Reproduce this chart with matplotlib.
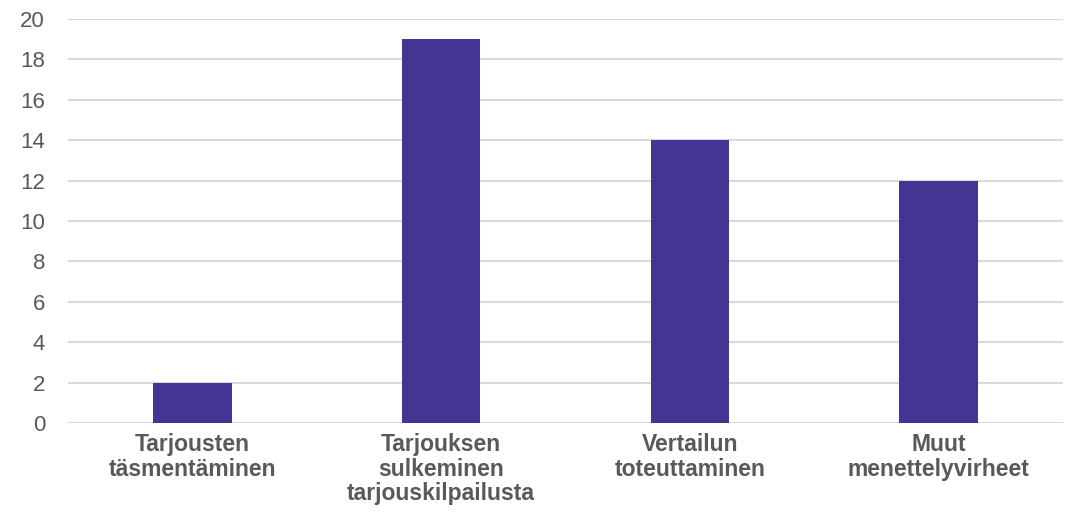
import matplotlib
matplotlib.use("Agg")
import matplotlib.pyplot as plt
import numpy as np

plt.rcParams["font.family"] = ["Liberation Sans", "DejaVu Sans"]

categories = [
    "Tarjousten\ntäsmentäminen",
    "Tarjouksen\nsulkeminen\ntarjouskilpailusta",
    "Vertailun\ntoteuttaminen",
    "Muut\nmenettelyvirheet",
]
values = [2, 19, 14, 12]
y_ticks = [0, 2, 4, 6, 8, 10, 12, 14, 16, 18, 20]

fig = plt.figure(figsize=(10.71, 5.18), dpi=100)
ax = fig.add_axes([0.0635, 0.1834, 0.929, 0.78])

x = np.arange(len(categories))
ax.bar(x, values, width=0.315, color="#433594", zorder=3)

ax.set_xlim(-0.5, len(categories) - 0.5)
ax.set_ylim(0, 20)
ax.set_yticks(y_ticks)
ax.set_yticklabels([str(v) for v in y_ticks])
ax.grid(axis="y", color="#d9d9d9", linewidth=1.5, zorder=0)

for s in ax.spines.values():
    s.set_visible(False)

ax.tick_params(axis="y", length=0, pad=16.5, labelsize=16, labelcolor="#595959")
ax.tick_params(axis="x", length=0, pad=7)
ax.set_xticks(x)
ax.set_xticklabels(categories, fontsize=16.5, fontweight="bold", color="#595959",
                   linespacing=1.1)

fig.savefig("out.png", dpi=100)
